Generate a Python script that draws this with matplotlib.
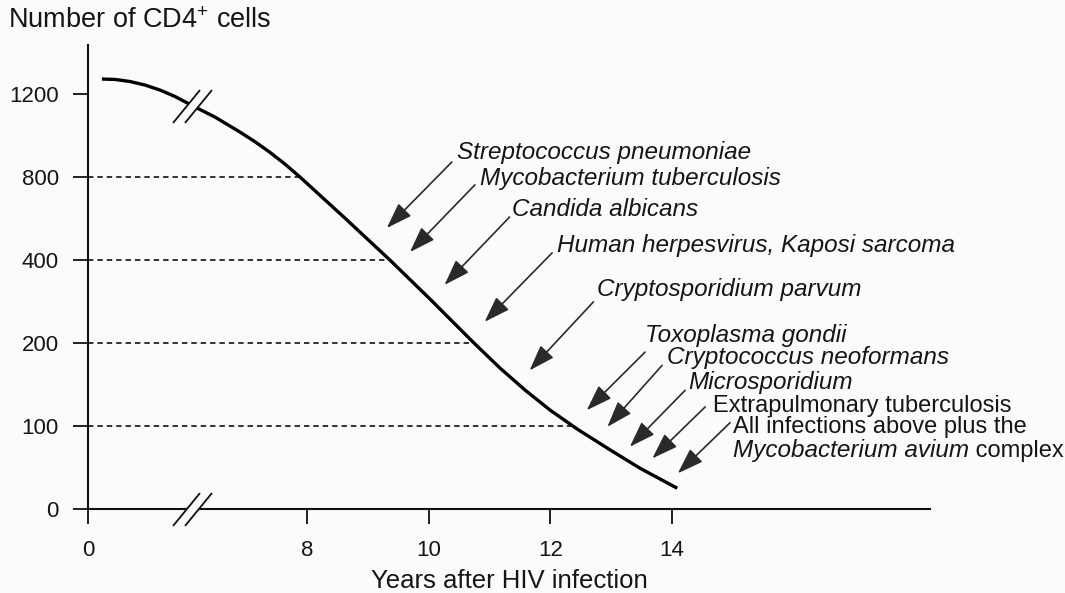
import numpy as np
import matplotlib
matplotlib.use("Agg")
import matplotlib.pyplot as plt
from matplotlib.path import Path

plt.rcParams['font.family'] = ['Liberation Sans', 'DejaVu Sans']
plt.rcParams['mathtext.fontset'] = 'custom'
plt.rcParams['mathtext.rm'] = 'Liberation Sans'
plt.rcParams['mathtext.it'] = 'Liberation Sans:italic'

# CD4 count over the course of the infection
years = [0.82, 1.59, 2.47, 3.35, 4.23, 5.11, 6.12, 6.48, 6.89, 7.14, 7.39, 7.63, 7.88,
         8.62, 9.36, 10.02, 10.73, 11.17, 11.59, 12.0, 12.45, 12.99, 13.48, 14.09]
cd4 = [1272, 1270, 1260, 1243, 1219, 1188, 1142, 1089, 1017, 970, 918, 863, 800,
       602, 400, 306, 202, 170, 143, 119, 96, 71, 49, 25]

thresholds = [800, 400, 200, 100]
y_ticks = [0, 100, 200, 400, 800, 1200]
x_ticks = [0, 8, 10, 12, 14]
brk = 6.1  # years before this are squeezed together

# opportunistic infections, where the arrow points and where the text sits
infections = [
    "Streptococcus pneumoniae",
    "Mycobacterium tuberculosis",
    "Candida albicans",
    "Human herpesvirus, Kaposi sarcoma",
    "Cryptosporidium parvum",
    "Toxoplasma gondii",
    "Cryptococcus neoformans",
    "Microsporidium",
    "Extrapulmonary tuberculosis",
    "All infections above plus the",
]
italic = [True, True, True, True, True, True, True, True, False, False]
tip_x = [9.31, 9.69, 10.26, 10.92, 11.66, 12.60, 12.94, 13.31, 13.68, 14.10]
tip_y = [554, 438, 340, 251, 167, 119, 99, 75, 61, 43]
tail_x = [10.38, 10.76, 11.33, 12.03, 12.71, 13.56, 13.84, 14.22, 14.55, 14.96]
tail_y = [872, 762, 607, 434, 299, 189, 173, 143, 123, 104]
text_x = [10.47, 10.84, 11.37, 12.11, 12.77, 13.56, 13.92, 14.27, 14.68, 15.01]
text_y = [920, 795, 641, 472, 328, 219, 182, 152, 124, 99]
last_line_y = 70

# uneven y axis: every tick gets the same spacing
ladder = [0, 100, 200, 400, 800, 1200, 1600]
steps = np.arange(len(ladder))


def y_fwd(v):
    return np.interp(v, ladder, steps)


def y_inv(p):
    return np.interp(p, steps, ladder)


sq = 0.28


def x_fwd(t):
    t = np.asarray(t, dtype=float)
    return np.where(t < brk, t * sq, brk * sq + t - brk)


def x_inv(p):
    p = np.asarray(p, dtype=float)
    return np.where(p < brk * sq, p / sq, p - brk * sq + brk)


bg = '#fbfbfb'
ink = '#151515'

fig = plt.figure(figsize=(10.65, 5.93), dpi=100)
fig.patch.set_facecolor(bg)
ax = fig.add_axes([88 / 1065, 1 - 509 / 593, (930 - 88) / 1065, (509 - 45) / 593])
ax.set_facecolor('none')
ax.set_xscale('function', functions=(x_fwd, x_inv))
ax.set_yscale('function', functions=(y_fwd, y_inv))
ax.set_xlim(0, 18.25)
ax.set_ylim(0, 1436)

ax.plot(years, cd4, color='black', lw=2.4, solid_capstyle='butt',
        solid_joinstyle='round', zorder=3)

# dashed guides run from the axis to where the curve crosses each level
for level in thresholds:
    cross = np.interp(level, cd4[::-1], years[::-1])
    ax.plot([0, cross], [level, level], color='#222222', lw=1.3,
            linestyle=(0, (3, 2.2)), zorder=2)

for i, name in enumerate(infections):
    ax.annotate('', xy=(tip_x[i], tip_y[i]), xytext=(tail_x[i], tail_y[i]),
                arrowprops=dict(arrowstyle='-|>,head_length=1.6,head_width=0.55',
                                color='#2a2a2a', lw=1.2, shrinkA=0, shrinkB=0))
    ax.text(text_x[i], text_y[i], name, fontsize=17.5 if italic[i] else 17,
            ha='left', va='center', style='italic' if italic[i] else 'normal',
            color=ink)

t = ax.text(text_x[-1], last_line_y, 'Mycobacterium avium', fontsize=17.5,
            ha='left', va='center', style='italic', color=ink)
ax.annotate(' complex', xy=(1, 0.5), xycoords=t, ha='left', va='center',
            fontsize=17, color=ink)

# axis break marks: a gap with two slashes
slash = Path([(-19.5, -16.5), (7.5, 16.5), (-7.5, -16.5), (19.5, 16.5)],
             [Path.MOVETO, Path.LINETO, Path.MOVETO, Path.LINETO])
gap = Path([(-19.5, -16.5), (7.5, 16.5), (19.5, 16.5), (-7.5, -16.5), (-19.5, -16.5)])
brk_y = [0, np.interp(brk, years, cd4)]
for by in brk_y:
    ax.plot([brk], [by], marker=gap, markersize=27, markeredgewidth=0,
            markerfacecolor=bg, linestyle='none', clip_on=False, zorder=5)
    ax.plot([brk], [by], marker=slash, markersize=28, markeredgewidth=1.3,
            markeredgecolor='#111111', fillstyle='none', linestyle='none',
            clip_on=False, zorder=6)

for side in ['top', 'right']:
    ax.spines[side].set_visible(False)
for side in ['left', 'bottom']:
    ax.spines[side].set_linewidth(1.5)
    ax.spines[side].set_color('#111111')

ax.set_yticks(y_ticks)
ax.set_yticklabels([str(v) for v in y_ticks])
ax.set_xticks(x_ticks)
ax.set_xticklabels([str(v) for v in x_ticks])
ax.minorticks_off()
ax.tick_params(axis='both', direction='out', length=11, width=1.3,
               color='#111111', labelsize=16, labelcolor=ink)
ax.tick_params(axis='y', pad=10)
ax.tick_params(axis='x', pad=11)

ax.set_xlabel('Years after HIV infection', fontsize=18.5, color=ink, labelpad=6)
fig.text(8 / 1065, 1 - 21 / 593, r'Number of CD4$^{+}$ cells', fontsize=19.5,
         ha='left', va='center', color=ink)

fig.savefig('out.png', dpi=100, facecolor=fig.get_facecolor())
